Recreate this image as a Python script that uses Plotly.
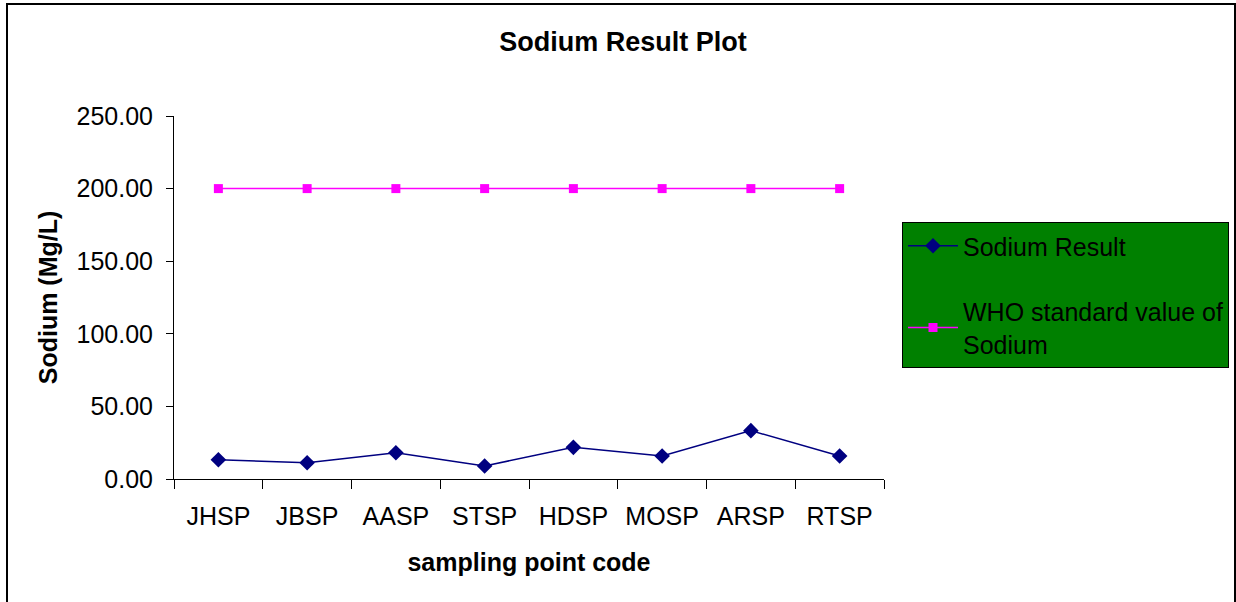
import plotly.graph_objects as go

categories = ["JHSP", "JBSP", "AASP", "STSP", "HDSP", "MOSP", "ARSP", "RTSP"]
sodium_result = [13.3, 11.2, 18.1, 9.0, 21.8, 15.8, 33.3, 15.8]
who_standard = [200, 200, 200, 200, 200, 200, 200, 200]

FONT = "Liberation Sans, Arial, sans-serif"
FS = 25

fig = go.Figure()
fig.add_trace(go.Scatter(
    x=categories, y=sodium_result, name="Sodium Result",
    mode="lines+markers", legendgroup="a",
    line=dict(color="#000080", width=1.5),
    marker=dict(symbol="diamond", size=12, color="#000080"),
))
fig.add_trace(go.Scatter(
    x=categories, y=who_standard, name="WHO standard value of<br>Sodium",
    mode="lines+markers", legendgroup="b",
    line=dict(color="#FF00FF", width=1.5),
    marker=dict(symbol="square", size=9, color="#FF00FF"),
))

L, R, T, B = 174, 884, 116, 479
W, H = 1236, 602
pw, ph = R - L, B - T

def px(x):
    return (x - L) / pw

def py(y):
    return (B - y) / ph

fig.update_layout(
    width=W, height=H,
    margin=dict(l=L, r=W - R, t=T, b=H - B, pad=0, autoexpand=False),
    paper_bgcolor="white", plot_bgcolor="white",
    font=dict(family=FONT, size=FS, color="black"),
    title=dict(text="<b>Sodium Result Plot</b>", x=623 / W, xanchor="center",
               y=1 - 42 / H, yanchor="middle", font=dict(size=27)),
    showlegend=True,
    legend=dict(
        x=px(902), y=py(222), xanchor="left", yanchor="top",
        bgcolor="#008000", bordercolor="black", borderwidth=1,
        font=dict(size=FS, color="black"), itemwidth=50,
        tracegroupgap=30, itemsizing="trace",
    ),
    xaxis=dict(
        type="category", range=[-0.5, 7.5],
        showline=True, linecolor="black", linewidth=1,
        ticks="outside", tickson="boundaries", ticklen=9, tickcolor="black",
        showgrid=False, zeroline=False,
        tickfont=dict(size=FS), ticklabelstandoff=15,
        title=dict(text="<b>sampling point code</b>", font=dict(size=FS), standoff=24),
    ),
    yaxis=dict(
        range=[0, 250], dtick=50, tickformat=".2f",
        showline=True, linecolor="black", linewidth=1,
        ticks="outside", ticklen=7, tickcolor="black",
        showgrid=False, zeroline=False,
        tickfont=dict(size=FS), ticklabelstandoff=8,
        title=dict(text="<b>Sodium (Mg/L)</b>", font=dict(size=FS), standoff=11),
    ),
    shapes=[dict(
        type="rect", xref="paper", yref="paper",
        x0=px(7), x1=px(1235), y0=py(610), y1=py(4),
        line=dict(color="black", width=2), fillcolor="rgba(0,0,0,0)", layer="below",
    )],
)

fig.write_html("out.html")
